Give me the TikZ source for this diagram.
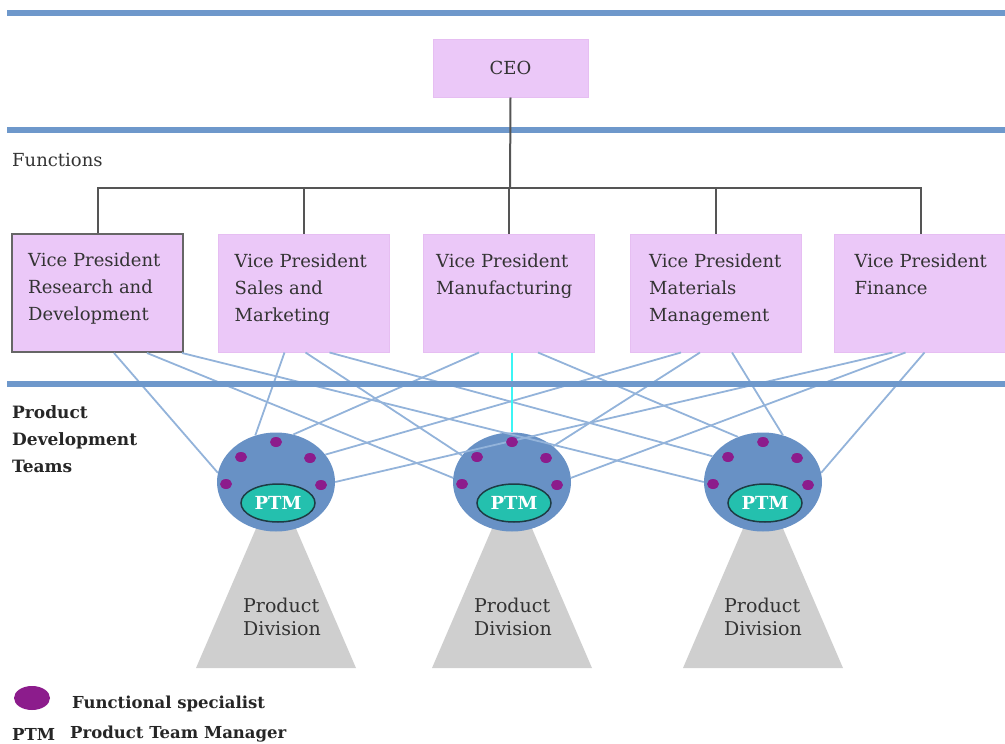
\documentclass[tikz,border=0pt]{standalone}
\usepackage{fontspec}
\setmainfont{DejaVu Serif}
\usetikzlibrary{shapes.geometric}

\definecolor{barblue}{HTML}{6E98CB}
\definecolor{netblue}{HTML}{93B3DA}
\definecolor{linkcyan}{HTML}{3CF5F5}
\definecolor{treegray}{HTML}{555555}
\definecolor{boxpink}{HTML}{EBC8F8}
\definecolor{boxedge}{HTML}{E6BEF2}
\definecolor{teamblue}{HTML}{6891C5}
\definecolor{specpurple}{HTML}{8C1C8C}
\definecolor{ptmgreen}{HTML}{24C0AE}
\definecolor{ptmedge}{HTML}{1E3C44}
\definecolor{divgray}{HTML}{CFCFCF}
\definecolor{textgray}{HTML}{333333}

\begin{document}
\begin{tikzpicture}[x=1pt,y=-1pt,
    bar/.style={line width=6pt,barblue},
    orgline/.style={line width=2pt,treegray},
    netline/.style={line width=1.8pt,netblue},
    vpbox/.style={rectangle,fill=boxpink,draw=boxedge,line width=1pt,
      minimum width=171pt,minimum height=118pt,inner sep=0pt},
    vptext/.style={anchor=north west,align=left,inner sep=0pt,text=textgray,
      font=\fontsize{18}{27}\selectfont},
    team/.style={ellipse,fill=teamblue,minimum width=118pt,minimum height=99pt,inner sep=0pt},
    ptm/.style={ellipse,fill=ptmgreen,draw=ptmedge,line width=1.5pt,
      minimum width=74pt,minimum height=38pt,inner sep=0pt,text=white,
      font=\bfseries\fontsize{18}{18}\selectfont},
    division/.style={fill=divgray},
    divtext/.style={align=left,inner sep=0pt,text=textgray,font=\fontsize{19}{23}\selectfont},
    keytext/.style={anchor=west,inner sep=0pt,text=black!85,font=\bfseries\fontsize{16.5}{17}\selectfont}
  ]
  \useasboundingbox (0,0) rectangle (1005,744);

  % product divisions
  \coordinate (cL) at (276,482);
  \coordinate (cM) at (512,482);
  \coordinate (cR) at (763,482);
  \foreach \c in {cL,cM,cR}
    \fill[division] (\c) -- ++(-80,186) -- ++(160,0) -- cycle;
  \node[divtext] (divL) at (282,617) {Product\\Division};
  \node[divtext] (divM) at (513,617) {Product\\Division};
  \node[divtext] (divR) at (763,617) {Product\\Division};

  % top of the chart
  \draw[bar] (7,13) -- (1010,13);
  \draw[bar] (7,130) -- (1010,130);
  \node[vpbox,minimum width=155pt,minimum height=58pt,text=textgray,
    font=\fontsize{18}{18}\selectfont] (ceo) at (510.5,68) {CEO};
  \node[anchor=west,inner sep=0pt,text=textgray,font=\fontsize{18}{18}\selectfont]
    (functions) at (12,160) {Functions};

  % vice presidents
  \node[vpbox,draw=gray!80!black,line width=2pt] (vp1) at (97.5,293) {};
  \node[vpbox] (vp2) at (303.5,293) {};
  \node[vpbox] (vp3) at (509,293) {};
  \node[vpbox] (vp4) at (716,293) {};
  \node[vpbox,minimum width=174pt] (vp5) at (921,293) {};
  \node[vptext] (vp1text) at ([shift={(17,20)}]vp1.north west) {Vice President\\Research and\\Development};
  \node[vptext] (vp2text) at ([shift={(17,20)}]vp2.north west) {Vice President\\Sales and\\Marketing};
  \node[vptext] (vp3text) at ([shift={(13,20)}]vp3.north west) {Vice President\\Manufacturing};
  \node[vptext] (vp4text) at ([shift={(19,20)}]vp4.north west) {Vice President\\Materials\\Management};
  \node[vptext] (vp5text) at ([shift={(21,20)}]vp5.north west) {Vice President\\Finance};

  \coordinate (bus) at (510,188);
  \draw[orgline] (ceo.south) -- (bus);
  \foreach \v in {vp1,vp2,vp3,vp4,vp5}
    \draw[orgline] (\v.north) |- (bus);

  % product development teams
  \node[team] (teamL) at (cL) {};
  \node[team] (teamM) at (cM) {};
  \node[team] (teamR) at (cR) {};

  \foreach \b/\dx/\t/\a in {vp1/103/teamL/171, vp2/67/teamL/114, vp3/56/teamL/70,
      vp4/51/teamL/29, vp5/59/teamL/0,
      vp1/136/teamM/176, vp2/88/teamM/152, vp4/70/teamM/41, vp5/72/teamM/4,
      vp1/171/teamR/180, vp2/112/teamR/153, vp3/115/teamR/119,
      vp4/102/teamR/67, vp5/91/teamR/9}
    \draw[netline] ([xshift=\dx pt]\b.south west) -- (\t.\a);
  \draw[line width=2pt,linkcyan] (teamM.north |- vp3.south) -- (teamM.north);

  \draw[bar] (7,384) -- (1010,384);
  \node[anchor=north west,align=left,inner sep=0pt,text=black!85,
    font=\bfseries\fontsize{17}{27}\selectfont] (teams) at (12,405)
    {Product\\Development\\Teams};

  \foreach \t in {teamL,teamM,teamR}
    \foreach \dx/\dy in {0/-40,-35/-25,34/-24,-50/2,45/3}
      \fill[specpurple] ([shift={(\dx,\dy)}]\t.center) ellipse (6 and 5);
  \node[ptm] (ptmL) at ([shift={(2,21)}]teamL.center) {PTM};
  \node[ptm] (ptmM) at ([shift={(2,21)}]teamM.center) {PTM};
  \node[ptm] (ptmR) at ([shift={(2,21)}]teamR.center) {PTM};

  % key
  \node[ellipse,fill=specpurple,minimum width=36pt,minimum height=24pt,inner sep=0pt]
    (keydot) at (32,698) {};
  \node[keytext] (keyspec) at (72,704) {Functional specialist};
  \node[keytext] (keyptm) at (12,734) {PTM};
  \node[keytext] (keymgr) at (70,734) {Product Team Manager};
\end{tikzpicture}
\end{document}
